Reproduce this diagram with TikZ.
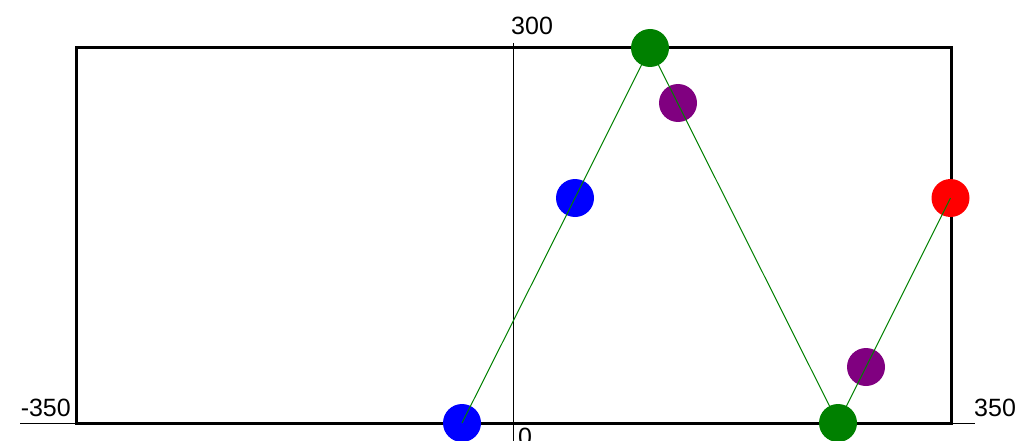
\documentclass[tikz,border=0pt]{standalone}
\usepackage{fontspec}
\setmainfont{Liberation Sans}
\definecolor{cgreen}{HTML}{008000}
\definecolor{cpurple}{HTML}{800080}
\definecolor{cblue}{HTML}{0000FF}
\definecolor{cred}{HTML}{FF0000}
\tikzset{
  dot/.style={circle, fill=#1, draw=none, minimum size=38pt, inner sep=0pt},
  lbl/.style={inner sep=0pt, font=\fontsize{25}{29}\selectfont},
  frame/.style={draw=black, line width=3pt},
  axisline/.style={draw=black, line width=1pt},
  path/.style={draw=cgreen, line width=1pt}
}
\begin{document}
\begin{tikzpicture}[x=1pt,y=-1pt]
\useasboundingbox (0,0) rectangle (1035,441);
% frame
\draw[frame] (76,48) rectangle (951,423);
% axes
\coordinate (xl) at (20,423);
\coordinate (xr) at (975,423);
\coordinate (yt) at (513.5,43);
\coordinate (yb) at (513.5,441);
\draw[axisline] (xl) -- (xr);
\draw[axisline] (yt) -- (yb);
% labels
\node[lbl, anchor=base east] (lm) at (71,416) {-350};
\node[lbl, anchor=base west] (lp) at (974,416) {350};
\node[lbl, anchor=base west] (lt) at (511,35) {300};
\node[lbl, anchor=north west] (lz) at (518,428) {0};
% points
\node[dot=cblue] (b1) at (462,423) {};
\node[dot=cblue] (b2) at (575,198) {};
\node[dot=cpurple] (p1) at (678,103) {};
\node[dot=cpurple] (p2) at (866,367) {};
\node[dot=cred] (r1) at (950.5,198) {};
\draw[path] (b1.center) -- (b2.center) -- (650,48) -- (838,423) -- (p2.center) -- (r1.center);
\node[dot=cgreen] (g1) at (650,48) {};
\node[dot=cgreen] (g2) at (838,423) {};
\end{tikzpicture}
\end{document}
